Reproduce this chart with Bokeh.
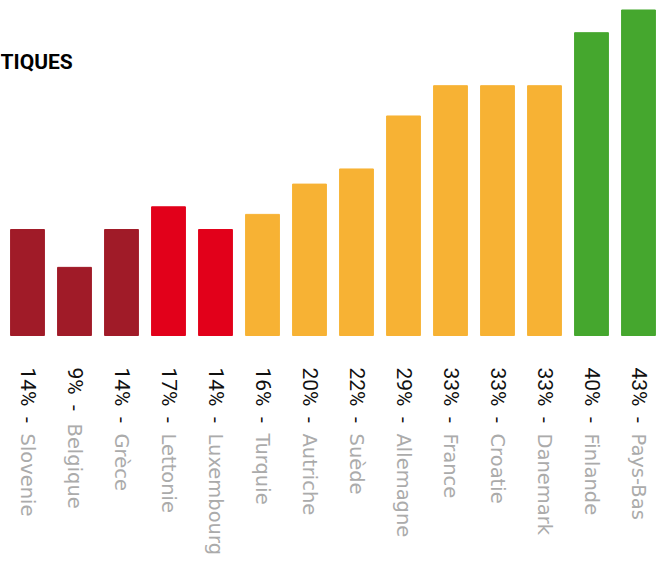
import math
from bokeh.plotting import figure
from bokeh.models import ColumnDataSource, Range1d, Label
from bokeh.core.properties import value
from bokeh.embed import file_html
from bokeh.resources import INLINE

# ---- data ----
countries = ["Slovenie", "Belgique", "Grèce", "Lettonie", "Luxembourg", "Turquie",
             "Autriche", "Suède", "Allemagne", "France", "Croatie", "Danemark",
             "Finlande", "Pays-Bas"]
percents = [14, 9, 14, 17, 14, 16, 20, 22, 29, 33, 33, 33, 40, 43]
groups = ["low", "low", "low", "mid_low", "mid_low", "mid", "mid", "mid", "mid",
          "mid", "mid", "mid", "high", "high"]
title_fragment = "TIQUES"

group_colors = {"low": "#A01B28", "mid_low": "#E2001A", "mid": "#F7B234", "high": "#45A72E"}

# ---- layout constants ----
W, H = 656, 555
px_per_unit = 7.57      # pixels per percentage point
bar_bottom_px = 335     # figure-pixel y of value 0
label_gap = 32
digit_w = 10.0
dash_w = 46

idx = list(range(len(countries)))
src = ColumnDataSource(dict(
    x=idx,
    top=percents,
    color=[group_colors[g] for g in groups],
    pct=[f"{v}%\u00a0\u00a0-" for v in percents],
    country=countries,
    zero=[0] * len(countries),
    off_pct=[label_gap] * len(countries),
    off_cty=[label_gap + len(str(v)) * digit_w + dash_w for v in percents],
))

x0_px, step_px = 27, 47.0
x_start = -x0_px / step_px
x_end = x_start + W / step_px
y_top = bar_bottom_px / px_per_unit
y_bot = -(H - bar_bottom_px) / px_per_unit

p = figure(width=W, height=H, output_backend="svg", toolbar_location=None,
           x_range=Range1d(x_start, x_end), y_range=Range1d(y_bot, y_top),
           min_border=0, min_border_left=0, min_border_right=0,
           min_border_top=0, min_border_bottom=0)
p.axis.visible = False
p.grid.visible = False
p.outline_line_color = None
p.background_fill_color = "white"
p.border_fill_color = "white"

p.vbar(x="x", top="top", bottom=0, width=0.72, color="color", source=src)

p.text(x="x", y="zero", text="pct", angle=-math.pi / 2, y_offset="off_pct",
       text_align="left", text_baseline="middle", text_color="#111111",
       text_font=value("Roboto"), text_font_size="21px", source=src)
p.text(x="x", y="zero", text="country", angle=-math.pi / 2, y_offset="off_cty",
       text_align="left", text_baseline="middle", text_color="#ababab",
       text_font=value("DejaVu Sans"), text_font_size="19.5px", source=src)

p.add_layout(Label(x=0, y=H - 61, x_units="screen", y_units="screen",
                   text=title_fragment, text_align="left", text_baseline="middle",
                   text_font="Roboto", text_font_style="bold", text_font_size="21px",
                   text_color="#000000"))

open("out.html", "w").write(file_html(p, INLINE))
